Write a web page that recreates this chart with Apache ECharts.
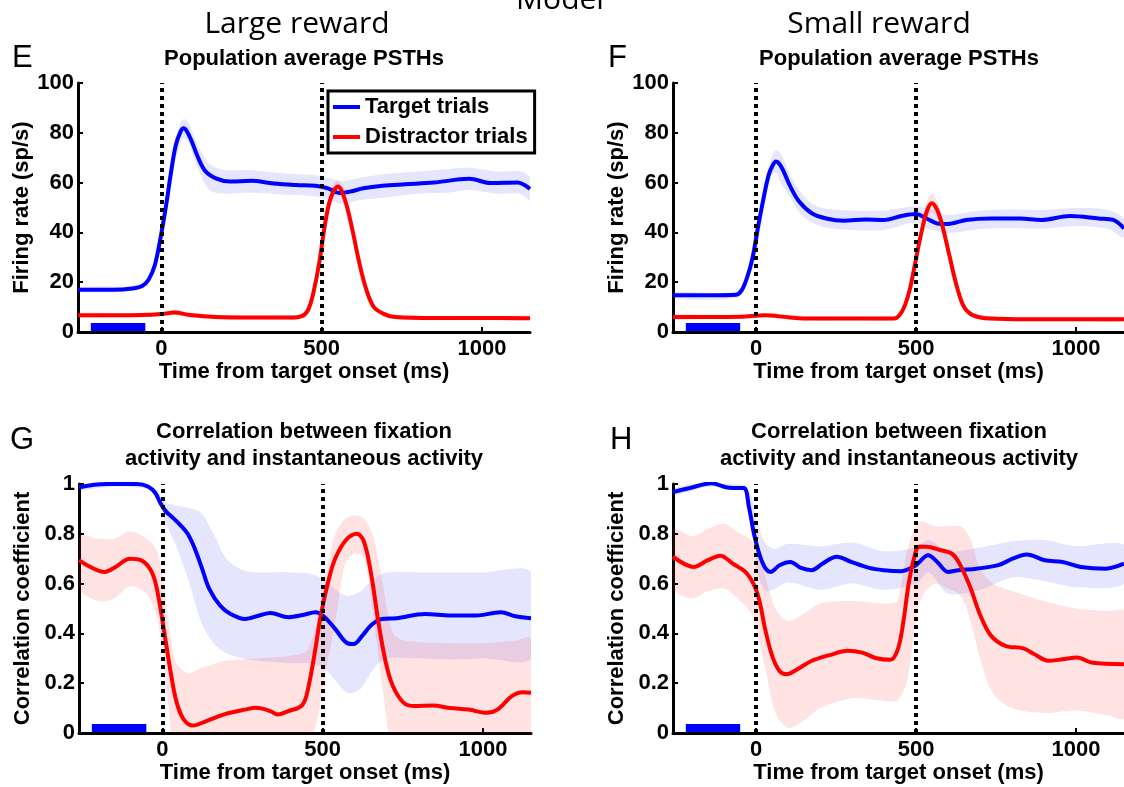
<!DOCTYPE html>
<html>
<head>
<meta charset="utf-8">
<script src="https://cdn.jsdelivr.net/npm/echarts@6/dist/echarts.min.js"></script>
<style>
  html, body { margin: 0; padding: 0; background: #ffffff; }
  #chart { width: 1124px; height: 787px; }
</style>
</head>
<body>
<div id="chart"></div>
<script>
// ---------- axis ranges and ticks ----------
const X_RANGE = [-260, 1150];          // ms, time from target onset
const X_TICKS = [0, 500, 1000];
const EVENT_TIMES = [0, 500];          // target onset and distractor onset (dotted lines)
const FIXATION_WINDOW = [-220, -50];   // fixation epoch (blue bar)
const RATE_RANGE = [0, 100, 20];       // min, max, step (sp/s)
const CORR_RANGE = [0, 1, 0.2];        // min, max, step

// ---------- E: population PSTH, large reward ----------
const E_TGT_T = [-260,-150,-90,-60,-40,-20,0,15,30,45,60,70,80,95,110,135,170,215,280,350,420,480,520,555,590,630,690,760,850,960,1030,1110,1150];
const E_TGT   = [17,17,17.5,18.5,21,27,39.6,51,64,75,80.5,81.8,80.5,76.5,71.5,65,61.7,60.4,60.7,59.6,59,58.7,57.7,55.8,56.4,57.7,58.7,59.3,60,61.5,59.8,60,57.5];
const E_TGT_BAND_T = [-260,-60,-20,0,20,40,60,70,85,110,150,200,280,400,480,530,570,620,700,800,900,960,1050,1120,1150];
const E_TGT_HI = [18,19.5,29,43,60,75,84,85.5,84,76,67.5,65,65,63.5,63,61.5,60.5,62,63.5,64.5,65.5,66,64.5,64.5,62];
const E_TGT_LO = [16,17.5,25,36.5,50,67,76,78,76,67,57,55.5,56,55,54.5,52.5,51.5,53,54,55.5,56,57,55.5,55.5,53];

const E_DIS_T = [-260,-150,-60,0,40,90,170,280,400,440,460,478,494,511,528,551,573,596,618,640,663,697,730,850,1000,1150];
const E_DIS   = [6.7,6.7,6.8,7.2,7.8,6.8,6.0,5.8,5.8,6.5,9.5,18,29,43.6,53.7,58.4,53,41,27.5,16.8,10,7.1,6,5.6,5.6,5.5];
const E_DIS_HI = [7.6,7.6,7.7,8.1,8.8,7.8,6.9,6.7,6.7,7.5,10.8,20,31.5,46.5,57,60.8,56,44,30,18.8,11.3,8,6.9,6.5,6.5,6.4];
const E_DIS_LO = [5.8,5.8,5.9,6.3,6.8,5.8,5.1,4.9,4.9,5.5,8.2,16,26.5,40.7,50.4,56,50,38,25,14.8,8.7,6.2,5.1,4.7,4.7,4.6];

// ---------- F: population PSTH, small reward ----------
const F_TGT_T = [-260,-150,-62,-45,-28,-11,6,22,39,52,62,73,84,107,135,174,219,275,342,398,454,499,533,566,600,656,734,824,891,981,1071,1116,1150];
const F_TGT   = [14.8,14.8,15,16.8,22,30,42.3,53,63,67,68.5,67.5,65,58.4,52.3,47.7,45.6,44.7,45.2,45,46.6,47.4,45.6,43.6,43.4,45,45.6,45.6,45,46.6,45.6,45,41.6];
const F_TGT_BAND_T = [-260,-62,-28,0,22,45,62,80,107,135,174,219,300,400,499,540,600,700,800,900,1000,1100,1150];
const F_TGT_HI = [16,16.2,24,38,57,69,73,71,63,57,51.5,49.5,48.8,48.8,50.5,49.5,47,48.8,49.2,49,49.8,49,45.5];
const F_TGT_LO = [13.6,13.8,20,31,49,62,64,59,54,48,44,42,41,41,44,41.5,39.8,41.4,41.8,41.5,42.6,41.5,38];

const F_DIS_T = [-260,-150,-50,28,100,174,300,432,448,465,482,499,516,533,549,566,583,605,628,650,678,734,850,1000,1150];
const F_DIS   = [6,6,6.1,6.7,5.9,5.4,5.4,5.4,6.7,10.7,18,28.9,39.6,48.3,51.7,49,42.3,30.2,18,10,6.7,5.4,5.1,5.1,5.1];
const F_DIS_HI = [6.9,6.9,7,7.6,6.8,6.3,6.3,6.3,7.7,12,20,31.5,43,52,55.3,52.5,45.5,33,20.5,11.5,7.7,6.3,6,6,6];
const F_DIS_LO = [5.1,5.1,5.2,5.8,5,4.5,4.5,4.5,5.7,9.4,16,26.3,36.2,44.6,48.1,45.5,39,27.4,15.5,8.5,5.7,4.5,4.2,4.2,4.2];

// ---------- G: fixation / instantaneous activity correlation, large reward ----------
const G_TGT_T = [-260,-213,-169,-79,-45,-22,-6,11,34,56,79,101,124,146,180,213,258,303,337,393,438,478,506,539,573,596,624,652,685,730,820,899,978,1056,1101,1150];
const G_TGT   = [0.986,0.997,1.0,1.0,0.99,0.964,0.923,0.89,0.863,0.835,0.80,0.741,0.66,0.58,0.512,0.478,0.458,0.472,0.482,0.465,0.474,0.485,0.465,0.418,0.364,0.357,0.391,0.434,0.458,0.461,0.478,0.472,0.472,0.485,0.469,0.461];
const G_TGT_BAND_T = [-260,-150,-50,-15,5,40,80,120,160,200,250,300,400,460,500,540,580,620,660,700,800,900,1000,1150];
const G_TGT_HI = [0.995,1.008,1.0,0.975,0.93,0.915,0.905,0.885,0.80,0.70,0.655,0.645,0.645,0.64,0.62,0.575,0.55,0.57,0.62,0.645,0.645,0.645,0.645,0.645];
const G_TGT_LO = [0.975,0.99,0.98,0.95,0.86,0.76,0.62,0.45,0.36,0.32,0.30,0.29,0.28,0.28,0.265,0.21,0.16,0.18,0.26,0.30,0.30,0.295,0.30,0.30];

const G_DIS_T = [-260,-225,-180,-146,-101,-67,-39,-22,-6,11,28,45,67,96,135,191,258,292,337,360,393,433,449,472,494,517,539,573,607,629,652,674,697,719,753,787,843,899,955,1011,1045,1090,1124,1150];
const G_DIS   = [0.694,0.667,0.647,0.667,0.70,0.694,0.66,0.606,0.50,0.364,0.229,0.121,0.054,0.03,0.047,0.074,0.094,0.101,0.088,0.074,0.088,0.108,0.148,0.296,0.47,0.606,0.70,0.775,0.80,0.768,0.633,0.445,0.283,0.189,0.121,0.108,0.11,0.10,0.094,0.081,0.094,0.148,0.164,0.162];
const G_DIS_BAND_T = [-260,-200,-150,-100,-50,-20,0,20,40,80,120,200,300,400,450,480,510,540,570,600,630,660,690,720,760,900,1000,1100,1150];
const G_DIS_HI = [0.79,0.78,0.78,0.81,0.78,0.74,0.64,0.45,0.29,0.24,0.26,0.29,0.30,0.31,0.33,0.44,0.64,0.80,0.86,0.875,0.86,0.78,0.58,0.40,0.37,0.36,0.36,0.37,0.38];
const G_DIS_LO = [0.58,0.53,0.54,0.59,0.56,0.48,0.34,0.10,-0.15,-0.2,-0.15,-0.12,-0.1,-0.1,-0.06,0.04,0.25,0.45,0.68,0.72,0.70,0.45,0.15,-0.1,-0.15,-0.15,-0.15,-0.1,-0.1];

// ---------- H: fixation / instantaneous activity correlation, small reward ----------
const H_TGT_T = [-260,-207,-140,-95,-73,-39,-22,-6,11,28,45,73,107,140,174,207,252,297,353,398,454,499,538,566,600,633,689,757,802,846,902,958,1015,1093,1150];
const H_TGT   = [0.968,0.984,1.003,0.987,0.984,0.984,0.903,0.795,0.714,0.663,0.647,0.674,0.687,0.663,0.654,0.68,0.708,0.687,0.663,0.654,0.65,0.674,0.714,0.687,0.647,0.654,0.66,0.674,0.70,0.717,0.694,0.687,0.667,0.66,0.68];
const H_TGT_BAND_T = [-260,-140,-40,-15,5,30,60,100,200,300,400,500,540,600,700,800,900,1000,1150];
const H_TGT_HI = [0.98,1.015,0.995,0.95,0.84,0.76,0.74,0.76,0.75,0.765,0.73,0.745,0.775,0.73,0.745,0.77,0.775,0.75,0.755];
const H_TGT_LO = [0.955,0.99,0.97,0.86,0.64,0.57,0.58,0.605,0.575,0.60,0.575,0.60,0.645,0.56,0.575,0.625,0.61,0.585,0.6];

const H_DIS_T = [-260,-196,-151,-112,-73,-34,-6,11,28,50,73,95,129,174,230,286,331,376,420,443,460,476,493,510,533,577,611,633,667,701,734,779,835,869,914,958,1003,1048,1150];
const H_DIS   = [0.708,0.667,0.694,0.712,0.68,0.647,0.593,0.526,0.418,0.31,0.249,0.236,0.256,0.29,0.313,0.33,0.323,0.30,0.294,0.337,0.445,0.593,0.70,0.748,0.748,0.734,0.721,0.687,0.593,0.472,0.391,0.35,0.34,0.317,0.29,0.296,0.303,0.283,0.276];
const H_DIS_BAND_T = [-260,-200,-150,-100,-50,-20,0,30,60,100,150,200,300,400,440,470,500,520,560,600,640,670,700,740,800,900,1000,1100,1150];
const H_DIS_HI = [0.82,0.79,0.82,0.84,0.80,0.78,0.74,0.62,0.50,0.45,0.48,0.52,0.53,0.52,0.53,0.72,0.84,0.85,0.83,0.83,0.83,0.78,0.66,0.60,0.57,0.53,0.50,0.49,0.49];
const H_DIS_LO = [0.58,0.54,0.57,0.58,0.53,0.49,0.42,0.25,0.08,0.02,0.05,0.10,0.14,0.13,0.13,0.20,0.45,0.55,0.60,0.58,0.55,0.45,0.30,0.16,0.10,0.08,0.09,0.07,0.06];

// ---------- text ----------
const SERIES_NAMES = ['Target trials', 'Distractor trials'];
const X_TITLE = 'Time from target onset (ms)';
const RATE_TITLE = 'Firing rate (sp/s)';
const CORR_TITLE = 'Correlation coefficient';
const PSTH_TITLE = 'Population average PSTHs';
const CORR_PANEL_TITLE = 'Correlation between fixation\nactivity and instantaneous activity';

// ---------- styling ----------
const BOLD_FONT = '"Liberation Sans", Arial, Helvetica, sans-serif';
const LIGHT_FONT = '"Open Sans", "DejaVu Sans", sans-serif';
const BLUE = '#0000ff';
const RED = '#ff0000';
const BLUE_BAND = 'rgba(40, 40, 235, 0.12)';
const RED_BAND = 'rgba(255, 40, 40, 0.13)';

const grids = [
  { left: 78,  top: 83,  width: 452, height: 249 },  // E
  { left: 673, top: 83,  width: 452, height: 249 },  // F
  { left: 79,  top: 484, width: 452, height: 249 },  // G
  { left: 673, top: 484, width: 452, height: 249 }   // H
];

const panels = [
  { yr: RATE_RANGE, yName: RATE_TITLE,
    tgt: [E_TGT_T, E_TGT], tgtBand: [E_TGT_BAND_T, E_TGT_LO, E_TGT_HI],
    dis: [E_DIS_T, E_DIS], disBand: [E_DIS_T, E_DIS_LO, E_DIS_HI] },
  { yr: RATE_RANGE, yName: RATE_TITLE,
    tgt: [F_TGT_T, F_TGT], tgtBand: [F_TGT_BAND_T, F_TGT_LO, F_TGT_HI],
    dis: [F_DIS_T, F_DIS], disBand: [F_DIS_T, F_DIS_LO, F_DIS_HI] },
  { yr: CORR_RANGE, yName: CORR_TITLE,
    tgt: [G_TGT_T, G_TGT], tgtBand: [G_TGT_BAND_T, G_TGT_LO, G_TGT_HI],
    dis: [G_DIS_T, G_DIS], disBand: [G_DIS_BAND_T, G_DIS_LO, G_DIS_HI] },
  { yr: CORR_RANGE, yName: CORR_TITLE,
    tgt: [H_TGT_T, H_TGT], tgtBand: [H_TGT_BAND_T, H_TGT_LO, H_TGT_HI],
    dis: [H_DIS_T, H_DIS], disBand: [H_DIS_BAND_T, H_DIS_LO, H_DIS_HI] }
];

const pair = (xs, ys) => xs.map((x, i) => [x, ys[i]]);

const boldText = { color: '#000', fontFamily: BOLD_FONT, fontWeight: 'bold', fontSize: 22 };

// Shaded error band: one polygon from the upper bound forward and the lower bound back.
function bandSeries(idx, band, color) {
  const [xs, lo, hi] = band;
  return {
    type: 'custom', xAxisIndex: idx, yAxisIndex: idx, silent: true, z: 1,
    data: [[xs[0], lo[0]]], encode: { x: 0, y: 1 },
    renderItem: function (params, api) {
      const pts = [];
      for (let i = 0; i < xs.length; i++) pts.push(api.coord([xs[i], hi[i]]));
      for (let i = xs.length - 1; i >= 0; i--) pts.push(api.coord([xs[i], lo[i]]));
      const cs = params.coordSys;
      return {
        type: 'group',
        clipPath: { type: 'rect', shape: { x: cs.x, y: cs.y, width: cs.width, height: cs.height } },
        children: [{ type: 'polygon', shape: { points: pts, smooth: 0.3 }, style: { fill: color } }]
      };
    }
  };
}

function lineSeries(idx, name, d, color, extra) {
  return Object.assign({
    type: 'line', name: name, xAxisIndex: idx, yAxisIndex: idx,
    data: pair(d[0], d[1]), symbol: 'none', smooth: 0.35,
    color: color, lineStyle: { color: color, width: 4 }, itemStyle: { color: color },
    z: 3, silent: true
  }, extra || {});
}

// Fixation epoch bar sitting on the time axis.
function fixationSeries(idx) {
  return {
    type: 'custom', xAxisIndex: idx, yAxisIndex: idx, silent: true, z: 4,
    data: [[FIXATION_WINDOW[0], FIXATION_WINDOW[1], 0]], encode: { x: [0, 1], y: 2 },
    renderItem: function (params, api) {
      const a = api.coord([api.value(0), api.value(2)]);
      const b = api.coord([api.value(1), api.value(2)]);
      return { type: 'rect', shape: { x: a[0], y: a[1] - 9, width: b[0] - a[0], height: 8 }, style: { fill: BLUE } };
    }
  };
}

const plainNumber = v => String(v);

const xAxes = [], yAxes = [], series = [];
panels.forEach((p, i) => {
  xAxes.push({
    type: 'value', gridIndex: i, min: X_RANGE[0], max: X_RANGE[1],
    name: X_TITLE, nameLocation: 'middle', nameGap: 27, nameTextStyle: boldText,
    axisLine: { show: true, onZero: false, lineStyle: { color: '#000', width: 3 } },
    axisTick: { show: true, inside: true, length: 5, customValues: X_TICKS, lineStyle: { color: '#000', width: 2 } },
    axisLabel: Object.assign({ customValues: X_TICKS, margin: 6, formatter: plainNumber }, boldText),
    splitLine: { show: false }
  });
  yAxes.push({
    type: 'value', gridIndex: i, min: p.yr[0], max: p.yr[1], interval: p.yr[2],
    name: p.yName, nameLocation: 'middle', nameRotate: 90, nameGap: 45, nameTextStyle: boldText,
    axisLine: { show: true, onZero: false, lineStyle: { color: '#000', width: 3 } },
    axisTick: { show: true, inside: true, length: 5, lineStyle: { color: '#000', width: 2 } },
    axisLabel: Object.assign({ margin: 4, showMinLabel: true, showMaxLabel: true, formatter: plainNumber }, boldText),
    splitLine: { show: false }
  });
  series.push(bandSeries(i, p.tgtBand, BLUE_BAND));
  series.push(bandSeries(i, p.disBand, RED_BAND));
  series.push(lineSeries(i, SERIES_NAMES[0], p.tgt, BLUE));
  series.push(lineSeries(i, SERIES_NAMES[1], p.dis, RED, {
    markLine: {
      silent: true, symbol: 'none', label: { show: false }, animation: false,
      lineStyle: { color: '#000', type: [4, 4], width: 4 },
      data: EVENT_TIMES.map(t => ({ xAxis: t }))
    }
  }));
  series.push(fixationSeries(i));
});

const titleBase = { textAlign: 'center', padding: 0, textStyle: Object.assign({}, boldText, { lineHeight: 27 }) };

const option = {
  animation: false,
  backgroundColor: '#ffffff',
  grid: grids,
  xAxis: xAxes,
  yAxis: yAxes,
  series: series,
  legend: {
    data: SERIES_NAMES, orient: 'vertical', left: 328, top: 91,
    icon: 'rect', itemWidth: 27, itemHeight: 4, itemGap: 8,
    padding: [5, 7, 5, 5], borderColor: '#000', borderWidth: 3, borderRadius: 0,
    backgroundColor: '#ffffff', selectedMode: false,
    textStyle: boldText
  },
  title: [
    Object.assign({ text: PSTH_TITLE, left: 304, top: 45 }, titleBase),
    Object.assign({ text: PSTH_TITLE, left: 899, top: 45 }, titleBase),
    Object.assign({ text: CORR_PANEL_TITLE, left: 304, top: 418 }, titleBase),
    Object.assign({ text: CORR_PANEL_TITLE, left: 899, top: 418 }, titleBase)
  ],
  graphic: [
    { type: 'text', x: 560, y: 0, style: { text: 'Model', align: 'center', verticalAlign: 'middle', fill: '#000', font: 'normal 30px ' + LIGHT_FONT } },
    { type: 'text', x: 297, y: 24, style: { text: 'Large reward', align: 'center', verticalAlign: 'middle', fill: '#000', font: 'normal 30px ' + LIGHT_FONT } },
    { type: 'text', x: 879, y: 24, style: { text: 'Small reward', align: 'center', verticalAlign: 'middle', fill: '#000', font: 'normal 30px ' + LIGHT_FONT } },
    { type: 'text', x: 12,  y: 58,  style: { text: 'E', align: 'left', verticalAlign: 'middle', fill: '#000', font: 'normal 31px ' + BOLD_FONT } },
    { type: 'text', x: 608, y: 58,  style: { text: 'F', align: 'left', verticalAlign: 'middle', fill: '#000', font: 'normal 31px ' + BOLD_FONT } },
    { type: 'text', x: 10,  y: 440, style: { text: 'G', align: 'left', verticalAlign: 'middle', fill: '#000', font: 'normal 31px ' + BOLD_FONT } },
    { type: 'text', x: 610, y: 440, style: { text: 'H', align: 'left', verticalAlign: 'middle', fill: '#000', font: 'normal 31px ' + BOLD_FONT } }
  ]
};

const chart = echarts.init(document.getElementById('chart'), null, { renderer: 'canvas' });
chart.setOption(option);
</script>
</body>
</html>
